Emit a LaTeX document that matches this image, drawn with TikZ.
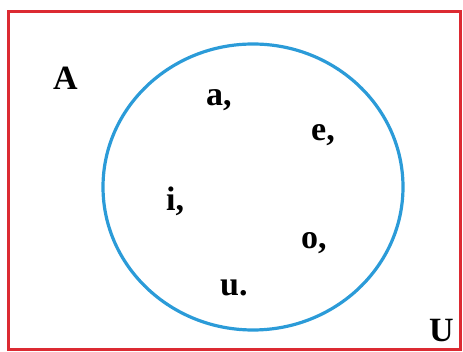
\documentclass[tikz,border=0pt]{standalone}
\usepackage{fontspec}
\setmainfont{Liberation Serif}
\definecolor{UNIred}{HTML}{DC2A32}
\definecolor{SETblue}{HTML}{2B9BD8}
\usetikzlibrary{positioning}

\begin{document}
\begin{tikzpicture}[x=1pt,y=-1pt,
  every node/.style={font=\fontsize{34}{34}\selectfont\bfseries,inner sep=0pt}]
  \useasboundingbox (0,0) rectangle (463,352);
  \draw[UNIred,line width=3pt] (8,12) rectangle (460,350);
  \draw[SETblue,line width=3.2pt] (253,187) ellipse [x radius=150,y radius=143];
  \node[anchor=base west] (lblA) at (53,90) {A};
  \node[anchor=base west] (lblU) at (429,342) {U};
  \foreach \n/\x/\y/\t in {a/206/106/{a,},e/311/141/{e,},i/166/211/{i,},o/301/249/{o,},u/220/296/{u.}}
    \node[anchor=base west] (v\n) at (\x,\y) {\t};
\end{tikzpicture}
\end{document}
